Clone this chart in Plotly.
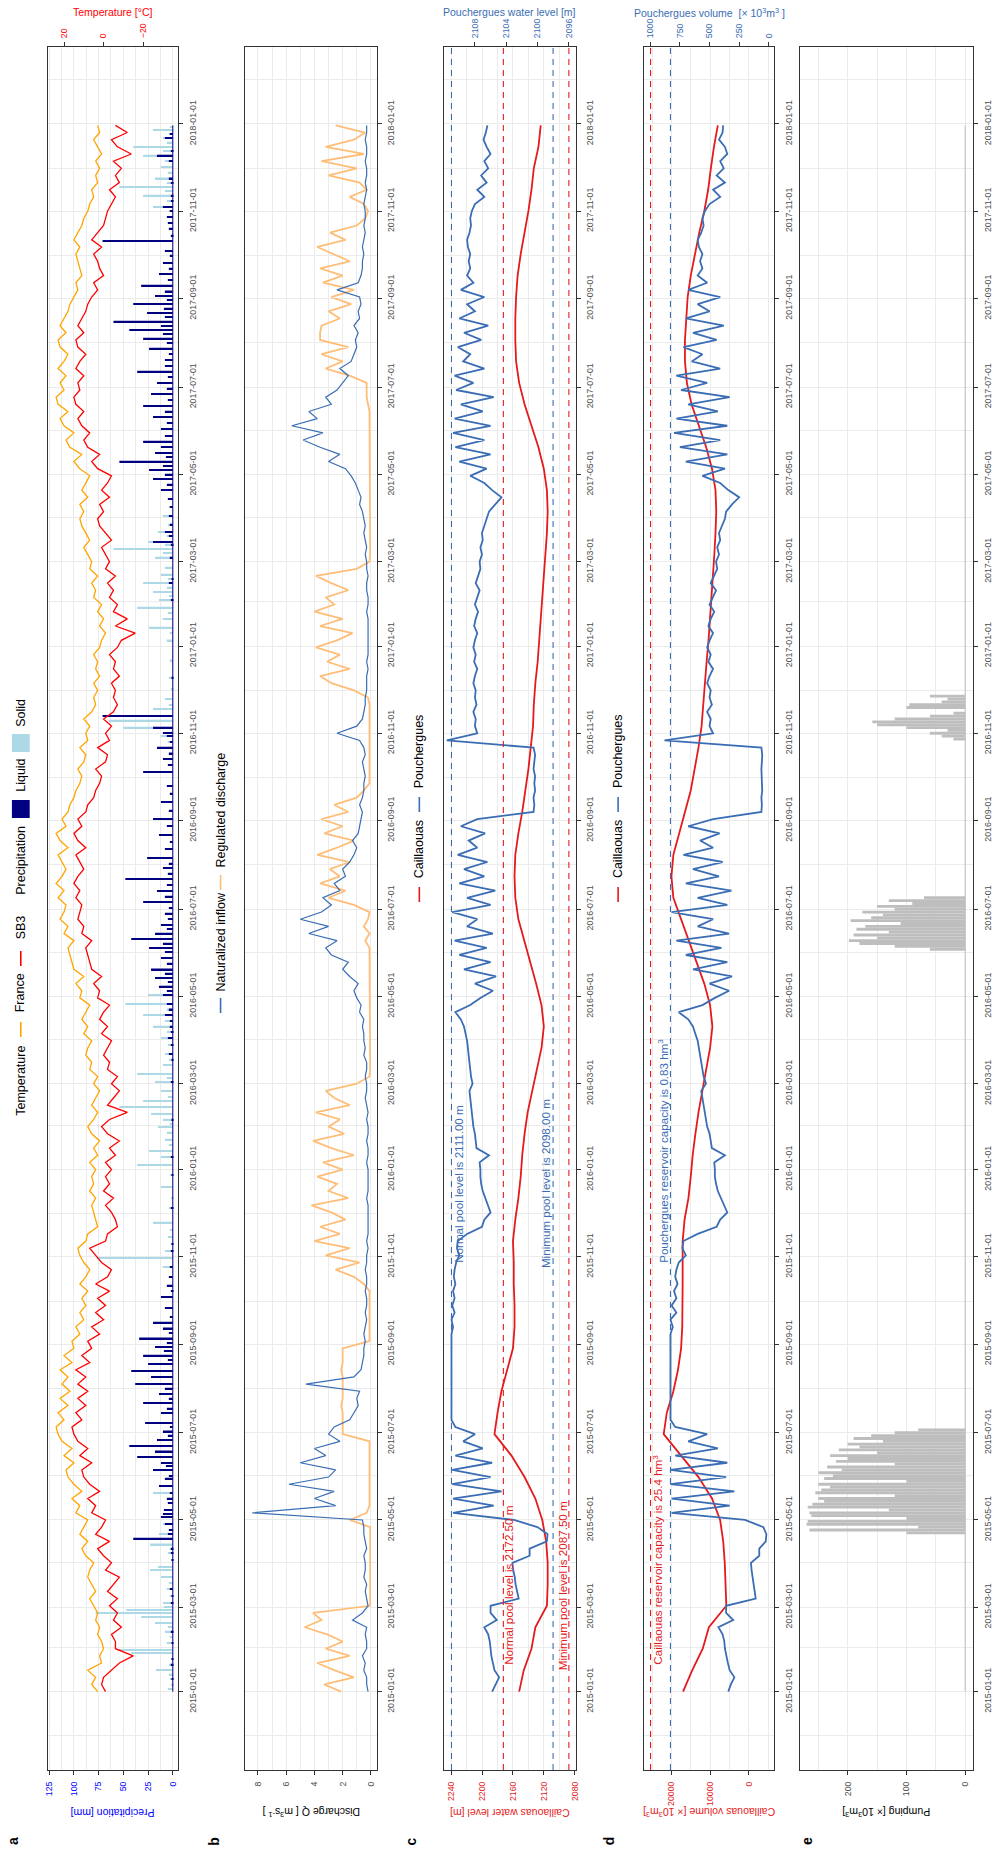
import pandas as pd
import plotly.graph_objects as go

FIG_W, FIG_H = 993, 1850
FONT = "Liberation Sans, Arial, Helvetica, sans-serif"


def px(x):
    return x / FIG_W


def py(y):
    return 1 - y / FIG_H


# ------------------------------------------------------------------ data
# 5-day series starting 2015-01-01 (220 values)
temp_france = [3, 6, 4, 8, 1, 2, 0, 1, 3, 2, 4, 3, 5, 7, 4, 6, 8, 7, 5, 9, 11, 8, 12, 10,
               8, 14, 12, 16, 11, 15, 18, 19, 15, 20, 16, 21, 23, 24, 20, 23, 18, 22, 17,
               21, 18, 22, 16, 20, 15, 16, 12, 14, 10, 12, 9, 11, 8, 12, 9, 7, 10,
               12, 13, 9, 8, 3, 4, 5, 6, 4, 7, 5, 6,
               4, 7, 3, 5, 2, 6, 8, 5, 3, 6, 4, 2, 5, 3, 7, 6, 9, 8, 6, 10, 8, 11, 9, 7, 12,
               11, 14, 10, 15, 16, 17, 18, 15, 20, 18, 22, 20, 19, 23, 20, 24, 21, 19,
               21, 23, 18, 22, 24, 19, 21, 18, 17, 15, 14, 12, 11, 13, 10, 9, 12, 8,
               9, 7, 10, 6, 4, 5, 3, 5, 2, 4, 3, 5, 2,
               1, -1, 2, 0, 3, 1, 5, 4, 6, 3, 7, 6, 8, 10, 7, 9, 11, 12, 10, 12, 8, 11, 9, 7,
               12, 15, 11, 17, 19, 15, 20, 22, 18, 23, 24, 20, 22, 19, 23, 20, 18, 22,
               23, 19, 22, 20, 18, 17, 15, 13, 14, 11, 12, 13, 14, 12, 15, 13, 11, 10,
               8, 7, 5, 6, 3, 4, 2, 4, 1, 3, 5, 2, 3]
temp_sb3 = [-1, 1, 0, -4, -8, -15, -6, -6, -4, -9, -5, -7, -3, -7, -2, -5, -8, -1,
            -4, 0, 3, -3, 4, 1, -1, 6, 4, 8, 2, 7, 10, 11, 6, 12, 8, 13, 15, 16, 11, 14, 9, 13, 8,
            13, 9, 14, 7, 11, 6, 8, 2, 6, 0, 4, -1, 3, -3, 4, -2, -4, 1,
            4, 7, -1, -2, -7, -6, -4, -1, -5, 0, -3, -1,
            -4, -1, -6, -3, -8, -2, 1, -3, -12, -2, -5, -8, -4, -7, -2, -3, 0, -2, -4,
            1, -2, 2, 0, -3, 3, 2, 5, 1, 6, 7, 8, 9, 6, 11, 10, 13, 12, 11, 14, 12, 15, 13, 10,
            12, 14, 9, 13, 15, 11, 13, 9, 8, 5, 4, 2, 1, 4, -1, -2, 3, -3,
            -1, -4, 0, -5, -7, -5, -6, -4, -8, -5, -6, -3, -7,
            -9, -16, -6, -12, -5, -7, -3, -5, -2, -6, -1, -3, -1, 1, -4, -1, 2, 3,
            0, 2, -3, 1, -2, -4, 3, 6, 2, 8, 10, 7, 11, 13, 10, 14, 15, 12, 13, 10, 14, 12, 9, 13,
            14, 10, 13, 11, 9, 8, 6, 3, 5, 0, 2, 3, 5, 1, 6, 3, 0, -1,
            -2, -4, -6, -3, -8, -6, -9, -5, -14, -7, -4, -12, -6]
inflow = [0.2, 0.3, 0.3, 0.5, 0.4, 0.6, 0.3, 0.3, 0.4, 0.3, 1.3, 0.6, 0.2, 0.3, 0.4, 0.3, 0.5, 0.4,
          0.4, 0.5, 0.3, 0.4, 0.5, 0.5, 0.6, 8.4, 2.5, 4.0, 2.6, 5.8, 3.0, 2.5, 5.0, 3.2, 4.0, 2.2, 3.0,
          2.6, 1.5, 1.2, 0.9, 1.0, 0.8, 4.6, 1.2, 0.7, 0.6, 0.5, 0.5, 0.4, 0.5, 0.4, 0.3, 0.4, 0.3,
          0.3, 0.4, 0.3, 0.3, 0.4, 0.3, 0.3, 0.2, 0.3, 0.2, 0.2, 0.2, 0.2, 0.2, 0.3, 0.2, 0.2, 0.2,
          0.2, 0.3, 0.2, 0.2, 0.3, 0.2, 0.2, 0.3, 0.2, 0.3, 0.4, 0.3, 0.3, 0.4, 0.3, 0.3, 0.5, 0.4, 0.5,
          0.5, 0.6, 0.5, 0.8, 0.7, 1.0, 1.2, 0.9, 1.5, 2.0, 1.6, 2.8, 3.2, 2.4, 4.4, 3.0, 5.0, 3.5,
          2.8, 3.4, 2.2, 2.6, 1.8, 2.0, 1.5, 1.2, 1.0, 1.3, 0.9, 0.8, 0.7, 0.6, 0.8, 0.6, 0.5, 0.5,
          0.4, 0.5, 0.6, 0.4, 0.5, 0.8, 2.4, 1.0, 0.6, 0.5, 0.4, 0.4, 0.3, 0.3, 0.3, 0.2, 0.3, 0.2, 0.2,
          0.2, 0.2, 0.2, 0.2, 0.3, 0.2, 0.2, 0.3, 0.3, 0.2, 0.3, 0.3, 0.4, 0.3, 0.4, 0.5, 0.4, 0.5,
          0.6, 0.8, 0.7, 0.9, 1.1, 1.4, 1.8, 3.0, 2.2, 3.6, 4.8, 3.4, 5.6, 3.8, 4.4, 2.8, 3.2, 2.4,
          2.0, 1.6, 2.2, 1.4, 1.2, 1.0, 1.1, 0.9, 1.2, 0.8, 0.9, 0.7, 0.8, 2.4, 0.9, 0.7, 0.6, 0.6,
          0.5, 0.6, 0.5, 0.4, 0.5, 0.4, 0.4, 0.5, 0.4, 0.3, 0.4, 0.3, 0.3, 0.4, 0.3, 0.3, 0.4, 0.3, 0.3]
regulated = [2.1, 3.3, 1.2, 2.6, 3.8, 1.5, 3.2, 2.0, 3.1, 4.7, 3.5, 4.1,
             0.05, 0.05, 0.05, 0.05, 0.05, 0.05, 0.05, 0.05, 0.05, 0.05, 0.05, 0.05,
             1.5, 0.3, 0.1, 0.1, 0.1, 0.1, 0.1, 0.1, 0.1, 0.1, 0.1, 0.1, 2.0,
             2.0, 2.0, 2.0, 2.1, 2.0, 2.0, 2.0, 2.0, 2.1, 2.0, 2.0, 2.0,
             0.1, 0.1, 0.1, 0.1, 0.1, 0.1, 0.1, 0.1, 0.5, 1.2, 2.5, 0.8,
             3.2, 1.5, 4.0, 2.2, 3.6, 1.8, 2.8, 4.2, 1.6, 3.0, 2.4, 3.8,
             2.0, 3.4, 1.2, 2.8, 4.1, 1.9, 3.0, 2.2, 3.9, 1.5, 2.6, 3.2,
             1.0, 0.1, 0.05, 0.05, 0.05, 0.05, 0.05, 0.05, 0.05, 0.05, 0.05, 0.05, 0.05,
             0.05, 0.05, 0.05, 0.1, 0.1, 0.1, 0.1, 0.4, 0.1, 0.5, 0.2, 0.1,
             1.2, 3.0, 1.8, 3.6, 2.2, 2.9, 1.5, 3.8, 2.4, 1.2, 3.3, 2.0,
             3.5, 1.6, 2.6, 1.0, 0.5, 0.1, 0.1, 0.1, 0.1, 0.1, 0.1, 0.1,
             0.1, 0.1, 0.1, 0.1, 0.1, 0.2, 1.2, 2.8, 3.6, 1.5, 3.1, 2.2, 3.9,
             2.4, 1.3, 3.6, 2.0, 4.0, 2.6, 3.2, 1.6, 2.8, 3.9, 1.0,
             0.1, 0.05, 0.05, 0.05, 0.05, 0.05, 0.05, 0.05, 0.05, 0.05, 0.05, 0.05, 0.05,
             0.05, 0.05, 0.05, 0.05, 0.1, 0.1, 0.1, 0.1, 0.1, 0.2, 0.3, 0.3,
             0.3, 1.5, 3.2, 2.0, 3.5, 1.6, 3.6, 3.6, 3.5, 2.2, 3.0, 1.4,
             2.8, 1.2, 3.4, 2.0, 3.6, 1.5, 2.6, 3.8, 1.8, 2.9, 1.0, 0.4,
             0.2, 0.5, 1.5, 0.3, 0.8, 3.0, 1.0, 3.5, 0.5, 3.2, 1.2, 0.4, 2.5]
pouch_level = [2105.8, 2105.4, 2104.9, 2105.5, 2105.7, 2105.9, 2106.0,
               2106.1, 2106.3, 2106.8, 2105.2, 2106.0,
               2106.0, 2102.4, 2102.6, 2102.8, 2102.9, 2103.1,
               2103.2, 2101.0, 2101.0, 2098.8, 2098.7, 2100.0,
               2103.0, 2110.8, 2105.6, 2110.8, 2104.6, 2110.9, 2106.0,
               2110.9, 2105.8, 2110.5, 2107.0, 2109.5, 2108.0,
               2110.5, 2111.0, 2111.0, 2111.0, 2111.0, 2111.0,
               2111.0, 2111.0, 2111.0, 2111.0, 2111.0, 2111.0,
               2111.0, 2111.0, 2110.8, 2111.0, 2110.6, 2110.9,
               2110.6, 2110.8, 2110.5, 2110.7, 2110.6, 2110.4,
               2110.0, 2110.3, 2110.2, 2109.0, 2107.1, 2106.8,
               2106.0, 2106.3, 2106.6, 2107.0, 2107.2, 2107.3,
               2107.3, 2107.4, 2106.2, 2107.8, 2107.9, 2108.0, 2108.2,
               2108.3, 2108.4, 2108.5, 2108.6, 2108.7,
               2108.3, 2108.5, 2108.6, 2108.7, 2108.8, 2108.9, 2109.0,
               2109.2, 2109.4, 2109.8, 2110.5, 2108.6, 2107.3,
               2105.7, 2108.0, 2105.3, 2109.4, 2106.0, 2110.0,
               2106.5, 2110.6, 2105.7, 2109.0, 2107.7, 2110.9,
               2106.0, 2109.0, 2105.4, 2110.0, 2106.8, 2109.4,
               2106.4, 2110.2, 2107.7, 2108.8, 2106.7, 2109.8,
               2107.7, 2100.5, 2100.4, 2100.5, 2100.3, 2100.4,
               2100.3, 2100.5, 2100.4, 2100.3, 2100.5, 2111.6,
               2107.7, 2108.0, 2107.9, 2108.2, 2107.8, 2108.0,
               2107.9, 2108.2, 2108.0, 2107.7, 2108.1, 2107.9, 2108.2,
               2108.0, 2107.7, 2108.1, 2107.9, 2107.6, 2108.0,
               2107.7, 2107.4, 2107.9, 2107.6, 2107.3,
               2107.4, 2107.1, 2107.3, 2107.0, 2107.1, 2106.8, 2106.5,
               2106.2, 2105.4, 2104.6, 2105.8, 2106.8, 2108.6,
               2106.5, 2110.0, 2106.0, 2110.5, 2106.8, 2110.8,
               2106.0, 2110.6, 2107.0, 2109.8, 2105.6, 2110.4,
               2108.2, 2110.6, 2106.8, 2109.5, 2108.6, 2110.2,
               2107.2, 2109.4, 2106.3, 2110.0, 2108.0, 2109.0,
               2106.8, 2109.8, 2108.2, 2109.0, 2108.6, 2108.8,
               2108.6, 2108.9, 2109.0, 2108.7, 2108.5, 2108.6,
               2108.4, 2108.0, 2106.8, 2107.7, 2106.5, 2107.2,
               2106.3, 2106.8, 2106.0, 2106.5, 2106.9, 2106.6, 2106.4]
pouch_volume = [342, 320, 290, 330, 345, 360, 370, 375, 390, 425, 300, 360,
                360, 110, 120, 130, 135, 145, 150, 80, 80, 25, 20, 45,
                200, 820, 330, 820, 290, 830, 360, 830, 350, 790, 430, 680, 520,
                790, 830, 830, 830, 830, 830, 830, 830, 830, 830, 830, 830,
                830, 830, 810, 830, 780, 820, 780, 800, 770, 790, 780, 760,
                700, 730, 720, 600, 440, 410, 350, 375, 400, 430, 445, 455,
                455, 460, 370, 480, 490, 500, 520, 530, 540, 550, 560, 570,
                530, 550, 560, 570, 580, 590, 600, 620, 640, 680, 760, 560, 455,
                335, 500, 310, 640, 350, 700, 400, 780, 335, 600, 470, 820,
                350, 600, 315, 700, 420, 640, 390, 720, 470, 580, 415, 680,
                470, 62, 58, 62, 55, 58, 55, 62, 58, 55, 62, 880,
                470, 500, 490, 520, 480, 500, 490, 520, 500, 470, 510, 490, 520,
                500, 470, 510, 490, 460, 500, 470, 445, 490, 460, 435,
                445, 420, 435, 410, 420, 395, 370, 360, 310, 250, 342, 410, 560,
                370, 700, 350, 750, 410, 800, 350, 780, 430, 680, 330, 740,
                520, 780, 410, 650, 560, 720, 440, 640, 380, 700, 500, 600,
                410, 680, 520, 600, 560, 580, 560, 590, 600, 570, 550, 560,
                540, 500, 410, 470, 370, 440, 380, 410, 350, 370, 420, 390, 385]

# 15-day series starting 2015-01-01 (74 values)
caill_level = [2152, 2146, 2136, 2131, 2116, 2115, 2115, 2117, 2122, 2131, 2145, 2162, 2184, 2180,
               2175, 2168, 2160, 2158, 2158, 2159, 2159, 2160, 2157, 2153, 2150,
               2148, 2145, 2141, 2135, 2129, 2123, 2120, 2123, 2130, 2138, 2146, 2153, 2157, 2158,
               2157, 2153, 2148, 2144, 2140, 2137, 2134, 2133, 2131, 2128,
               2126, 2124, 2122, 2120, 2118, 2116, 2115, 2116, 2120, 2127, 2136, 2145, 2152, 2156,
               2157, 2157, 2156, 2154, 2150, 2145, 2140, 2136, 2133, 2127, 2124]
caill_volume = [17000, 14600, 11900, 10300, 5800, 6000, 6200, 6600, 7400, 9500, 13000, 17500,
                22000, 21200, 19500, 18300, 17500, 17200, 17100, 17100, 17100, 17100, 16600,
                15600, 15000,
                14500, 13800, 13000, 12000, 11000, 10000, 9400, 10000, 11500, 13500, 15500, 17500,
                19500, 20000, 19500, 18000, 16500, 15000, 14000, 13000, 12200, 11800, 11400, 10900,
                10400, 10000, 9600, 9200, 8900, 8600, 8400, 8600, 9500, 11000, 13000, 14800, 16000,
                16500, 16500, 16200, 15800, 15000, 14000, 12800, 11500, 10500, 9800, 9000, 8000]

precip_dates = ["2015-01-03", "2015-01-10", "2015-01-16", "2015-01-20", "2015-01-28", "2015-01-30",
                "2015-02-04", "2015-02-12", "2015-02-18", "2015-02-22", "2015-02-25", "2015-02-27",
                "2015-03-04", "2015-03-14", "2015-03-22", "2015-03-27", "2015-03-29", "2015-04-08",
                "2015-04-14", "2015-04-18", "2015-04-21", "2015-04-28", "2015-05-03", "2015-05-05",
                "2015-05-08", "2015-05-20", "2015-05-25", "2015-05-30", "2015-06-05", "2015-06-10",
                "2015-06-14", "2015-06-18", "2015-06-22", "2015-06-26", "2015-07-02", "2015-07-08",
                "2015-07-15", "2015-07-22", "2015-07-28", "2015-08-04", "2015-08-09", "2015-08-13",
                "2015-08-18", "2015-08-24", "2015-08-30", "2015-09-05", "2015-09-12", "2015-09-16",
                "2015-09-26", "2015-10-04", "2015-10-12", "2015-10-25", "2015-10-31", "2015-11-05",
                "2015-11-15", "2015-11-25", "2015-12-05", "2015-12-20", "2015-12-28",
                "2016-01-04", "2016-01-10", "2016-01-14", "2016-01-22", "2016-01-31", "2016-02-05",
                "2016-02-09", "2016-02-14", "2016-02-18", "2016-02-25", "2016-03-02", "2016-03-08",
                "2016-03-14", "2016-03-22", "2016-04-02", "2016-04-10", "2016-04-18", "2016-04-26",
                "2016-05-02", "2016-05-08", "2016-05-14", "2016-05-20", "2016-05-28", "2016-06-04",
                "2016-06-10", "2016-06-14", "2016-06-20", "2016-06-28", "2016-07-06", "2016-07-14",
                "2016-07-22", "2016-07-30", "2016-08-06", "2016-08-12", "2016-08-22", "2016-09-02",
                "2016-09-14", "2016-09-25", "2016-10-05", "2016-10-14", "2016-10-22", "2016-10-30",
                "2016-11-05", "2016-11-10", "2016-11-13", "2016-11-18", "2016-11-25", "2016-12-10",
                "2016-12-22",
                "2017-01-05", "2017-01-14", "2017-01-20", "2017-01-28", "2017-02-02", "2017-02-08",
                "2017-02-14", "2017-02-20", "2017-03-04", "2017-03-10", "2017-03-15", "2017-03-22",
                "2017-04-02", "2017-04-20", "2017-04-28", "2017-05-04", "2017-05-10", "2017-05-16",
                "2017-05-24", "2017-06-02", "2017-06-10", "2017-06-18", "2017-06-26", "2017-07-04",
                "2017-07-12", "2017-07-20", "2017-07-28", "2017-08-04", "2017-08-10", "2017-08-16",
                "2017-08-22", "2017-08-28", "2017-09-03", "2017-09-10", "2017-09-18", "2017-09-26",
                "2017-10-04", "2017-10-11", "2017-10-20", "2017-10-28", "2017-11-04", "2017-11-12",
                "2017-11-18", "2017-11-24", "2017-12-02", "2017-12-10", "2017-12-16", "2017-12-22",
                "2017-12-28"]
precip_liquid = [0, 1, 0, 2, 0, 0, 1, 2, 0, 0, 0, 0, 2, 3, 0, 0, 0, 2, 0, 40, 5, 8, 12, 10,
                 9, 3, 14, 8, 20, 12, 36, 18, 44, 16, 10, 28, 12, 30, 14, 38, 22, 42,
                 25, 30, 18, 34, 10, 20, 8, 12, 6, 3, 0, 2, 0, 0, 2, 0, 1,
                 0, 2, 0, 0, 0, 1, 0, 0, 0, 0, 2, 0, 0, 4, 5, 3, 8, 6, 10, 14, 18, 22, 12, 24,
                 42, 18, 12, 8, 30, 16, 48, 10, 26, 8, 14, 20, 12, 6, 30, 10, 16, 6,
                 20, 0, 71, 0, 0, 1, 0,
                 0, 0, 0, 0, 2, 0, 4, 0, 3, 0, 20, 8, 4, 12, 20, 24, 54, 18, 30, 12, 20, 30, 22,
                 16, 36, 8, 24, 30, 44, 60, 26, 40, 18, 32, 14, 10, 8, 71, 4, 6, 10, 2,
                 0, 4, 0, 16, 0, 8, 0]
precip_solid = [5, 3, 17, 4, 42, 55, 6, 8, 18, 32, 78, 47, 10, 6, 12, 23, 15, 5, 23, 0, 14, 10, 0, 5,
                0, 20, 0, 0, 0, 0, 0, 0, 0, 0, 0, 0, 0, 0, 0, 0, 0, 0,
                0, 0, 0, 0, 0, 0, 0, 0, 4, 10, 77, 8, 5, 20, 4, 12, 3,
                36, 12, 24, 8, 15, 10, 22, 54, 30, 12, 18, 36, 10, 8, 12, 20, 30, 48, 25, 12, 8, 0, 0, 0,
                0, 0, 0, 0, 0, 0, 0, 0, 0, 0, 0, 0, 0, 0, 0, 0, 4, 12,
                50, 65, 0, 20, 8, 4, 3,
                6, 24, 10, 36, 14, 20, 30, 12, 18, 60, 25, 15, 10, 8, 6, 10, 0, 0, 0, 0, 0, 0, 0,
                0, 0, 0, 0, 0, 0, 0, 0, 0, 0, 0, 0, 0, 0, 0, 0, 4, 20, 30,
                54, 18, 12, 30, 40, 10, 20]
# smaller daily events
small_dates = ["2015-01-06", "2015-01-13", "2015-01-24", "2015-02-08", "2015-02-15", "2015-03-01",
               "2015-03-09", "2015-03-18", "2015-04-03", "2015-04-11", "2015-04-24", "2015-05-13",
               "2015-05-16", "2015-06-01", "2015-06-08", "2015-06-29", "2015-07-05", "2015-07-18",
               "2015-07-25", "2015-08-01", "2015-08-21", "2015-08-27", "2015-09-02", "2015-09-09",
               "2015-09-20", "2015-10-08", "2015-10-18", "2015-11-10", "2015-11-20", "2015-12-12",
               "2016-01-18", "2016-01-27", "2016-02-02", "2016-02-21", "2016-03-05", "2016-03-18",
               "2016-03-28", "2016-04-06", "2016-04-14", "2016-04-22", "2016-05-05", "2016-05-11",
               "2016-05-17", "2016-05-24", "2016-06-01", "2016-06-07", "2016-06-17", "2016-06-24",
               "2016-07-02", "2016-07-10", "2016-07-18", "2016-07-26", "2016-08-02", "2016-08-17",
               "2016-08-28", "2016-09-08", "2016-09-20", "2016-10-10", "2016-10-18", "2016-10-26",
               "2016-11-01", "2016-11-21", "2016-12-02",
               "2017-01-10", "2017-01-24", "2017-02-05", "2017-02-11", "2017-02-17", "2017-02-25",
               "2017-03-07", "2017-03-13", "2017-03-19", "2017-03-27", "2017-04-08", "2017-04-14",
               "2017-04-24", "2017-05-01", "2017-05-07", "2017-05-13", "2017-05-20", "2017-05-28",
               "2017-06-06", "2017-06-14", "2017-06-22", "2017-06-30", "2017-07-08", "2017-07-16",
               "2017-07-24", "2017-08-01", "2017-08-07", "2017-08-13", "2017-08-19", "2017-08-25",
               "2017-08-31", "2017-09-06", "2017-09-14", "2017-09-22", "2017-10-01", "2017-10-15",
               "2017-10-24", "2017-11-01", "2017-11-08", "2017-11-15", "2017-11-21", "2017-11-28",
               "2017-12-06", "2017-12-13", "2017-12-19", "2017-12-25", "2017-12-30"]
small_liquid = [0, 0, 1, 0, 0, 0, 1, 0, 1, 2, 4, 5, 6, 4, 7, 5, 3, 6, 4, 8, 5, 9, 6, 4, 3, 2, 4, 1, 0, 0,
                0, 0, 0, 0, 0, 1, 2, 2, 3, 4, 6, 5, 8, 6, 8, 10, 6, 5, 4, 8, 6, 5, 4, 3, 6, 4, 3, 5, 4, 3,
                10, 0, 0,
                0, 0, 0, 0, 1, 0, 0, 2, 4, 3, 3, 5, 6, 8, 10, 7, 12, 8, 6, 8, 5, 6, 5, 8, 4, 6, 10, 12,
                8, 9, 6, 8, 5, 4, 3, 2, 5, 3, 2, 0, 2, 0, 4, 2, 0, 3, 0]
small_solid = [2, 4, 2, 3, 5, 9, 3, 4, 2, 3, 2, 0, 0, 0, 0, 0, 0, 0, 0, 0, 0, 0, 0, 0, 0, 0, 0, 2, 3, 2,
               4, 6, 3, 5, 6, 4, 5, 6, 8, 6, 4, 2, 0, 0, 0, 0, 0, 0, 0, 0, 0, 0, 0, 0, 0, 0, 0, 0, 0, 5,
               6, 4, 2,
               3, 5, 4, 6, 5, 8, 10, 8, 6, 5, 4, 3, 2, 4, 0, 0, 0, 0, 0, 0, 0, 0, 0, 0, 0, 0, 0, 0,
               0, 0, 0, 0, 0, 0, 0, 0, 0, 4, 6, 8, 6, 5, 8, 10, 6, 4, 3]

# pumping, 2-day steps within each campaign
pump_2015_start = "2015-04-22"
pump_2015 = [100, 265, 80, 270, 268, 100, 262, 265, 130, 268, 260, 240, 250, 120, 255, 245, 230,
             250, 100, 240, 225, 250, 210, 235, 120, 220, 200, 230, 150, 215, 180, 200, 140, 190,
             160, 120, 80]
pump_2016a_start = "2016-06-03"
pump_2016a = [60, 120, 180, 198, 150, 190, 130, 185, 170, 110, 195, 160, 140, 175, 120, 150, 90,
              130, 70]
pump_2016b_start = "2016-10-28"
pump_2016b = [20, 40, 60, 30, 100, 150, 158, 120, 60, 20, 0, 100, 95, 40, 30, 60]

caill_normal_pool = 2172.5
caill_min_pool = 2087.5
pouch_normal_pool = 2111.0
pouch_min_pool = 2098.0
caill_capacity = 25400      # x 10^3 m3
pouch_capacity = 830        # x 10^3 m3

# ------------------------------------------------------------------ derived
dates5 = pd.date_range("2015-01-01", periods=len(temp_france), freq="5D")
dates15 = pd.date_range("2015-01-01", periods=len(caill_level), freq="15D")
pdates = pd.to_datetime(precip_dates + small_dates)
p_liquid = precip_liquid + small_liquid
p_solid = precip_solid + small_solid
pump_dates = list(pd.date_range(pump_2015_start, periods=len(pump_2015), freq="2D")) + \
    list(pd.date_range(pump_2016a_start, periods=len(pump_2016a), freq="2D")) + \
    list(pd.date_range(pump_2016b_start, periods=len(pump_2016b), freq="2D"))
pump_values = pump_2015 + pump_2016a + pump_2016b

DAY_MS = 86400000
T_RANGE = ["2014-11-07 04:48", "2018-02-23 19:12"]

RED_C = "#E41A1C"
BLUE_P = "#3A6DB4"
GRID = "#EBEBEB"
BORDER = "#333333"
TICK_TXT = "#4D4D4D"
TICK_SIZE = 8.8

fig = go.Figure()

# panel a
fig.add_trace(go.Bar(orientation="h", y=pdates, x=p_solid, width=DAY_MS,
                     marker=dict(color="#ADD8E6", line=dict(width=0)), xaxis="x", yaxis="y"))
fig.add_trace(go.Bar(orientation="h", y=pdates, x=p_liquid, width=DAY_MS,
                     marker=dict(color="#000080", line=dict(width=0)), xaxis="x", yaxis="y"))
fig.add_trace(go.Scatter(x=[0, 0], y=[dates5[0], dates5[-1]], mode="lines",
                         line=dict(color="#000080", width=1), xaxis="x", yaxis="y"))
fig.add_trace(go.Scatter(x=temp_france, y=dates5, mode="lines", line=dict(color="#FFA500", width=1.3),
                         xaxis="x6", yaxis="y"))
fig.add_trace(go.Scatter(x=temp_sb3, y=dates5, mode="lines", line=dict(color="#FF0000", width=1.3),
                         xaxis="x6", yaxis="y"))

# panel b
fig.add_trace(go.Scatter(x=regulated, y=dates5, mode="lines", line=dict(color="#FFBE78", width=1.8),
                         xaxis="x2", yaxis="y2"))
fig.add_trace(go.Scatter(x=inflow, y=dates5, mode="lines", line=dict(color=BLUE_P, width=1.2),
                         xaxis="x2", yaxis="y2"))

# panel c
fig.add_trace(go.Scatter(x=caill_level, y=dates15, mode="lines", line=dict(color=RED_C, width=1.8),
                         xaxis="x3", yaxis="y3"))
fig.add_trace(go.Scatter(x=pouch_level, y=dates5, mode="lines", line=dict(color=BLUE_P, width=1.8),
                         xaxis="x7", yaxis="y3"))

# panel d
fig.add_trace(go.Scatter(x=caill_volume, y=dates15, mode="lines", line=dict(color=RED_C, width=1.8),
                         xaxis="x4", yaxis="y4"))
fig.add_trace(go.Scatter(x=pouch_volume, y=dates5, mode="lines", line=dict(color=BLUE_P, width=1.8),
                         xaxis="x8", yaxis="y4"))

# panel e
fig.add_trace(go.Scatter(x=[0, 0], y=[dates5[0], dates5[-1]], mode="lines",
                         line=dict(color="#BEBEBE", width=1), xaxis="x5", yaxis="y5"))
fig.add_trace(go.Bar(orientation="h", y=pump_dates, x=pump_values, width=2 * DAY_MS,
                     marker=dict(color="#BEBEBE", line=dict(width=0)), xaxis="x5", yaxis="y5"))


def time_axis(anchor):
    return dict(type="date", domain=[py(1770), py(47)], anchor=anchor, side="right", range=T_RANGE,
                tick0="2015-01-01", dtick="M2", tickformat="%Y-%m-%d", tickangle=-90,
                ticks="outside", ticklen=4, tickwidth=1, tickcolor=BORDER,
                tickfont=dict(family=FONT, size=TICK_SIZE, color=TICK_TXT), ticklabelstandoff=2,
                showgrid=True, gridcolor=GRID, gridwidth=1,
                minor=dict(dtick="M1", tick0="2015-01-01", showgrid=True, gridcolor=GRID, gridwidth=0.6),
                showline=True, linecolor=BORDER, linewidth=1, mirror=True, zeroline=False)


def value_axis(left, right, rng, tick0, dtick, mdtick, color, anchor):
    return dict(domain=[px(left), px(right)], anchor=anchor, side="bottom", range=rng,
                tick0=tick0, dtick=dtick, tickformat="d", tickangle=-90,
                ticks="outside", ticklen=4, tickwidth=1, tickcolor=BORDER,
                tickfont=dict(family=FONT, size=TICK_SIZE, color=color), ticklabelstandoff=3,
                showgrid=True, gridcolor=GRID, gridwidth=1,
                minor=dict(dtick=mdtick, tick0=tick0, showgrid=True, gridcolor=GRID, gridwidth=0.6),
                showline=True, linecolor=BORDER, linewidth=1, mirror=True, zeroline=False)


def sec_axis(overlay, anchor, rng, tickvals, color):
    return dict(overlaying=overlay, anchor=anchor, side="top", range=rng, tickvals=tickvals,
                tickformat="d", tickangle=-90, ticks="outside", ticklen=4, tickwidth=1,
                tickcolor=BORDER, tickfont=dict(family=FONT, size=TICK_SIZE, color=color),
                ticklabelstandoff=2, showgrid=False, zeroline=False, showline=False)


layout = dict(
    width=FIG_W, height=FIG_H, margin=dict(l=0, r=0, t=0, b=0),
    paper_bgcolor="white", plot_bgcolor="white", showlegend=False, barmode="overlay",
    font=dict(family=FONT),
    xaxis=value_axis(45, 177, [126.7, -5.3], 0, 25, 12.5, "#0000FF", "y"),
    xaxis2=value_axis(245, 378, [8.9, -0.42], 0, 2, 1, TICK_TXT, "y2"),
    xaxis3=value_axis(446, 579, [2249.4, 2078.8], 2080, 40, 20, RED_C, "y3"),
    xaxis4=value_axis(648, 780, [27143, -6633], 0, 10000, 5000, RED_C, "y4"),
    xaxis5=value_axis(806, 981, [281, -13.5], 0, 100, 50, TICK_TXT, "y5"),
    xaxis6=sec_axis("x", "y", [28.35, -37.65], [-20, 0, 20], "#FF0000"),
    xaxis7=sec_axis("x3", "y3", [2111.95, 2095.12], [2096, 2100, 2104, 2108], BLUE_P),
    xaxis8=sec_axis("x4", "y4", [1055, -47.5], [0, 250, 500, 750, 1000], BLUE_P),
    yaxis=time_axis("x"), yaxis2=time_axis("x2"), yaxis3=time_axis("x3"),
    yaxis4=time_axis("x4"), yaxis5=time_axis("x5"),
)
fig.update_layout(**layout)

shapes = []
# reference levels
for xref, val, col in [("x3", caill_normal_pool, RED_C), ("x3", caill_min_pool, RED_C),
                       ("x7", pouch_normal_pool, BLUE_P), ("x7", pouch_min_pool, BLUE_P),
                       ("x4", caill_capacity, RED_C), ("x8", pouch_capacity, BLUE_P)]:
    yref = "y3 domain" if xref in ("x3", "x7") else "y4 domain"
    shapes.append(dict(type="line", xref=xref, yref=yref, x0=val, x1=val, y0=0, y1=1,
                       line=dict(color=col, width=1.1, dash="6px,5px"), layer="above"))


def key_line(x, y0, y1, color, width=1.6):
    shapes.append(dict(type="line", xref="paper", yref="paper", x0=px(x), x1=px(x),
                       y0=py(y0), y1=py(y1), line=dict(color=color, width=width)))


def key_box(x0, x1, y0, y1, color):
    shapes.append(dict(type="rect", xref="paper", yref="paper", x0=px(x0), x1=px(x1),
                       y0=py(y0), y1=py(y1), fillcolor=color, line=dict(width=0)))


annotations = []


def ann(text, x, y, angle=-90, size=12.5, color="black", xref="paper", yref="paper"):
    if xref == "paper":
        x = px(x)
    if yref == "paper":
        y = py(y)
    annotations.append(dict(text=text, x=x, y=y, xref=xref, yref=yref, textangle=angle,
                            showarrow=False, xanchor="center", yanchor="middle",
                            font=dict(family=FONT, size=size, color=color)))


# legend a
ann("Temperature", 18, 1081)
key_line(18, 1022, 1037, "#FFA500")
ann("France", 18, 992.5)
key_line(18, 951, 966, "#FF0000")
ann("SB3", 18, 927.5)
ann("Precipitation", 18, 860)
key_box(9, 27, 800, 818, "#000080")
ann("Liquid", 18, 775)
key_box(9, 27, 734, 752, "#ADD8E6")
ann("Solid", 18, 713)

# legend b
key_line(220, 998, 1013, BLUE_P)
ann("Naturalized inflow", 220, 942)
key_line(220, 875, 890, "#FFBE78")
ann("Regulated discharge", 220, 810)

# legends c and d
for lx in (421, 622):
    key_line(lx, 887, 902, RED_C)
    ann("Caillaouas", lx, 849)
    key_line(lx, 797, 812, BLUE_P)
    ann("Pouchergues", lx, 751)

# axis titles (bottom, upside down) and top titles
ann("Precipitation [mm]", 111, 1813, angle=180, size=10.5, color="#0000FF")
ann("Discharge Q [ m<sup>3</sup>s<sup>-1</sup> ]", 311.5, 1813, angle=180, size=10.5)
ann("Caillaouas water level [m]", 512.5, 1813, angle=180, size=10.5, color=RED_C)
ann("Caillaouas volume [× 10<sup>3</sup>m<sup>3</sup>]", 714, 1813, angle=180, size=10.5, color=RED_C)
ann("Pumping [× 10<sup>3</sup>m<sup>3</sup>]", 893.5, 1813, angle=180, size=10.5)
ann("Temperature [°C]", 111, 12, angle=0, size=10.5, color="#FF0000")
ann("Pouchergues water level [m]", 512.5, 12, angle=0, size=10.5, color=BLUE_P)
ann("Pouchergues volume  [× 10<sup>3</sup>m<sup>3</sup> ]", 714, 12, angle=0, size=10.5, color=BLUE_P)

# panel letters
for letter, lx in [("a", 10), ("b", 213), ("c", 413), ("d", 613), ("e", 813)]:
    ann("<b>%s</b>" % letter, lx, 1841, size=14)

# reference-level labels
ann("Normal pool level is %.2f m" % caill_normal_pool, 2165.1, "2015-03-16", size=11.6,
    color=RED_C, xref="x3", yref="y3")
ann("Minimum pool level is %.2f m" % caill_min_pool, 2095.9, "2015-03-16", size=11.6,
    color=RED_C, xref="x3", yref="y3")
ann("Normal pool level is %.2f m" % pouch_normal_pool, 2110.05, "2015-12-22", size=11.6,
    color=BLUE_P, xref="x7", yref="y3")
ann("Minimum pool level is %.2f m" % pouch_min_pool, 2098.88, "2015-12-22", size=11.6,
    color=BLUE_P, xref="x7", yref="y3")
ann("Caillaouas reservoir capacity is %.1f hm<sup>3</sup>" % (caill_capacity / 1000), 23569,
    "2015-04-03", size=11.6, color=RED_C, xref="x4", yref="y4")
ann("Pouchergues reservoir capacity is %.2f hm<sup>3</sup>" % (pouch_capacity / 1000), 894,
    "2016-01-14", size=11.6, color=BLUE_P, xref="x8", yref="y4")

fig.update_layout(shapes=shapes, annotations=annotations)

fig.write_html("out.html", config={"displayModeBar": False},
               post_script="document.body.style.margin='0px';document.body.style.overflow='hidden';")
